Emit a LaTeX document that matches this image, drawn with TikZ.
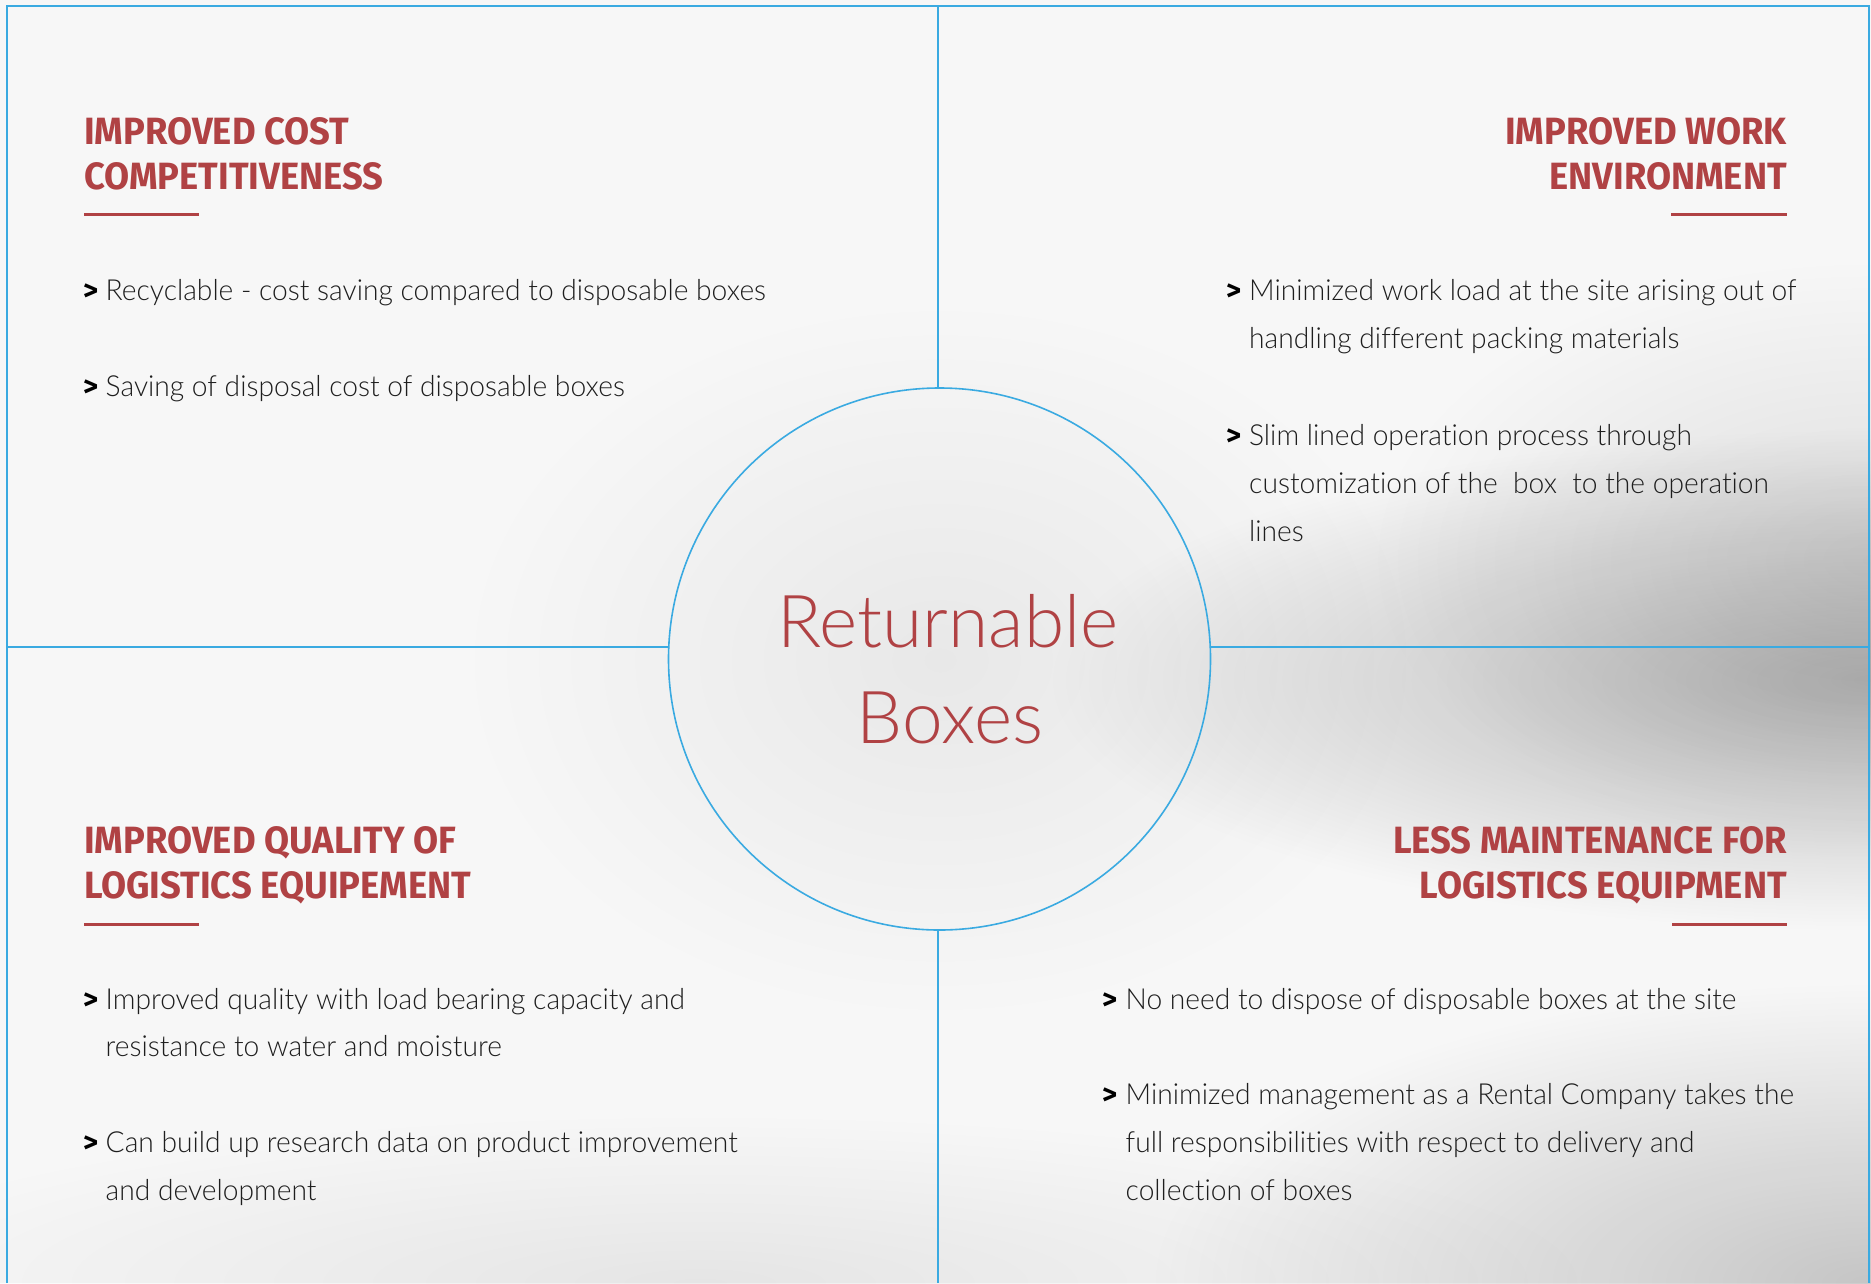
\documentclass[tikz,border=0pt]{standalone}
\usepackage{fontspec}
\usetikzlibrary{fadings}
\newfontfamily\bodyfont{Lato Light}[FakeStretch=0.972, Ligatures=NoCommon]
\newfontfamily\arrowfont{Fira Sans Bold}
\newfontfamily\headfont{Fira Sans Bold}[FakeStretch=0.957]
\newfontfamily\centerfont{Lato Light}[Ligatures=NoCommon]
\definecolor{linecol}{RGB}{58,170,225}
\definecolor{headred}{RGB}{176,66,68}
\definecolor{bodytext}{RGB}{30,30,30}
\definecolor{bgcol}{RGB}{247,247,247}
\tikzfading[name=softblob, inner color=transparent!0, outer color=transparent!100]
\begin{document}
\begin{tikzpicture}[x=1pt,y=-1pt,
  head/.style={font=\headfont\fontsize{38}{45}\selectfont, text=headred, inner sep=0pt},
  body/.style={font=\bodyfont\fontsize{29}{48}\selectfont, text=bodytext, inner sep=0pt, anchor=base west},
  gt/.style={font=\arrowfont\fontsize{29}{48}\selectfont, text=black, inner sep=0pt, anchor=base west},
  uline/.style={draw=headred, line width=3pt},
  divider/.style={draw=linecol, line width=1.6pt},
  centertext/.style={font=\centerfont\fontsize{73}{96}\selectfont, text=headred, inner sep=0pt, anchor=base},
  blob/.style={fill=black, path fading=softblob}
]
\useasboundingbox (0,0) rectangle (1871,1283);
% background
\fill[bgcol] (0,0) rectangle (1871,1283);
\fill[blob, opacity=0.27] (1871,680) ellipse (820 and 250);
\fill[blob, opacity=0.10] (1871,560) ellipse (500 and 300);
\fill[blob, opacity=0.20] (1871,1283) ellipse (720 and 300);
\fill[blob, opacity=0.06] (940,660) ellipse (480 and 360);
\fill[blob, opacity=0.07] (700,1283) ellipse (900 and 170);

% frame and dividers
\coordinate (tl) at (7,6);
\coordinate (tr) at (1869,6);
\coordinate (bl) at (7,1283);
\coordinate (br) at (1869,1283);
\coordinate (topmid) at (938,6);
\coordinate (botmid) at (938,1283);
\coordinate (leftmid) at (7,647);
\coordinate (rightmid) at (1869,647);
\node[circle, draw=linecol, line width=1.6pt, minimum size=542pt, inner sep=0pt, outer sep=0pt] (circ) at (939.5,659) {};
\draw[divider] (bl) -- (tl) -- (tr) -- (br);
\draw[divider] (topmid) -- (topmid |- circ.north);
\draw[divider] (botmid |- circ.south) -- (botmid);
\draw[divider] (leftmid) -- (leftmid -| circ.177.46);
\draw[divider] (rightmid -| circ.2.54) -- (rightmid);

% centre
\node[centertext] (cret) at (948,647) {Returnable};
\node[centertext] (cbox) at (950,743) {Boxes};

% top left
\node[head, anchor=base west] (tlh1) at (84,144) {IMPROVED COST};
\node[head, anchor=base west] (tlh2) at (84,189) {COMPETITIVENESS};
\coordinate (tlu1) at (84,214.5); \coordinate (tlu2) at (199,214.5);
\draw[uline] (tlu1) -- (tlu2);
\node[gt] (tlg1) at (83,300) {>};
\node[body] (tlb1) at (105.5,300) {Recyclable - cost saving compared to disposable boxes};
\node[gt] (tlg2) at (83,396) {>};
\node[body] (tlb2) at (105.5,396) {Saving of disposal cost of disposable boxes};

% top right
\node[head, anchor=base east] (trh1) at (1787,144) {IMPROVED WORK};
\node[head, anchor=base east] (trh2) at (1787,189) {ENVIRONMENT};
\coordinate (tru1) at (1671,214.5); \coordinate (tru2) at (1787,214.5);
\draw[uline] (tru1) -- (tru2);
\node[gt] (trg1) at (1226,300) {>};
\node[body] (trb1) at (1249,300) {Minimized work load at the site arising out of};
\node[body] (trb2) at (1249,348) {handling different packing materials};
\node[gt] (trg2) at (1226,445) {>};
\node[body] (trb3) at (1249,445) {Slim lined operation process through};
\node[body] (trb4) at (1249,493) {customization of the\ \ box\ \ to the operation};
\node[body] (trb5) at (1249,541) {lines};

% bottom left
\node[head, anchor=base west] (blh1) at (84,853) {IMPROVED QUALITY OF};
\node[head, anchor=base west] (blh2) at (84,898) {LOGISTICS EQUIPEMENT};
\coordinate (blu1) at (84,924.5); \coordinate (blu2) at (199,924.5);
\draw[uline] (blu1) -- (blu2);
\node[gt] (blg1) at (83,1009) {>};
\node[body] (blb1) at (105.5,1009) {Improved quality with load bearing capacity and};
\node[body] (blb2) at (105.5,1056) {resistance to water and moisture};
\node[gt] (blg2) at (83,1152) {>};
\node[body] (blb3) at (105.5,1152) {Can build up research data on product improvement};
\node[body] (blb4) at (105.5,1200) {and development};

% bottom right
\node[head, anchor=base east] (brh1) at (1787,853) {LESS MAINTENANCE FOR};
\node[head, anchor=base east] (brh2) at (1787,898) {LOGISTICS EQUIPMENT};
\coordinate (bru1) at (1672,924.5); \coordinate (bru2) at (1787,924.5);
\draw[uline] (bru1) -- (bru2);
\node[gt] (brg1) at (1102,1009) {>};
\node[body] (brb1) at (1125.5,1009) {No need to dispose of disposable boxes at the site};
\node[gt] (brg2) at (1102,1104) {>};
\node[body] (brb2) at (1125.5,1104) {Minimized management as a Rental Company takes the};
\node[body] (brb3) at (1125.5,1152) {full responsibilities with respect to delivery and};
\node[body] (brb4) at (1125.5,1200) {collection of boxes};
\end{tikzpicture}
\end{document}
